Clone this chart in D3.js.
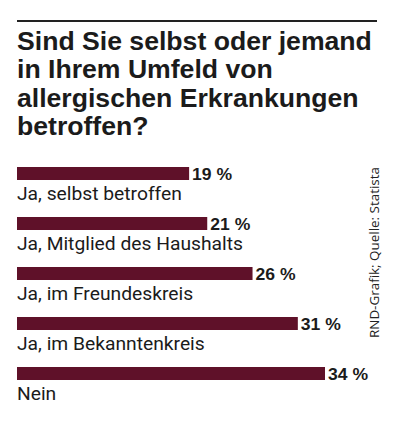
<!DOCTYPE html>
<html>
<head>
<meta charset="utf-8">
<script src="https://cdn.jsdelivr.net/npm/d3@7"></script>
<style>
  body { margin: 0; background: #fff; }
  svg { display: block; }
</style>
</head>
<body>
<div class="chart"></div>
<script>
// data
const titleLines = ["Sind Sie selbst oder jemand", "in Ihrem Umfeld von", "allergischen Erkrankungen", "betroffen?"];
const categories = ["Ja, selbst betroffen", "Ja, Mitglied des Haushalts", "Ja, im Freundeskreis", "Ja, im Bekanntenkreis", "Nein"];
const values = [19, 21, 26, 31, 34];
const source = "RND-Grafik; Quelle: Statista";

const width = 406, height = 424;
const barColor = "#5f1129";
const textColor = "#1b1b1b";

let svg = d3.select(".chart")
    .append("svg")
    .attr("width", width)
    .attr("height", height);

// squeeze / stretch a group horizontally so a reference width is reached
function fitWidth(group, w, wanted, x0) {
    let s = wanted / w;
    group.attr("transform", `translate(${x0 - x0 * s},0) scale(${s},1)`);
}

// top rule
svg.append("line")
    .attr("x1", 17).attr("x2", 377)
    .attr("y1", 21).attr("y2", 21)
    .attr("stroke", "#222")
    .attr("stroke-width", 2);

// title (Liberation Sans has a compact line box, lines sit 28.4px apart)
let titleG = svg.append("g");
titleG.selectAll("text")
    .data(titleLines)
    .join("text")
    .attr("x", 17)
    .attr("y", (d, i) => 50 + i * 28.4)
    .attr("font-family", "'Liberation Sans', Arial, sans-serif")
    .attr("font-weight", 700)
    .attr("font-size", 25)
    .attr("fill", textColor)
    .text(d => d);
fitWidth(titleG, titleG.select("text").node().getComputedTextLength(), 355, 17);

// scales
let xScale = d3.scaleLinear()
    .domain([0, 34])
    .range([17, 325]);

let yScale = d3.scalePoint()
    .domain(categories)
    .range([167, 367]);

const barHeight = 13;
const rowData = categories.map((c, i) => ({ category: c, value: values[i] }));

svg.append("g")
    .selectAll("rect")
    .data(rowData)
    .join("rect")
    .attr("x", xScale(0))
    .attr("y", d => yScale(d.category))
    .attr("width", d => xScale(d.value) - xScale(0))
    .attr("height", barHeight)
    .attr("fill", barColor);

// value labels
svg.append("g")
    .selectAll("text")
    .data(rowData)
    .join("text")
    .attr("x", d => xScale(d.value) + 3)
    .attr("y", d => yScale(d.category) + 12.5)
    .attr("font-family", "'Liberation Sans', Arial, sans-serif")
    .attr("font-weight", 700)
    .attr("font-size", 17)
    .attr("fill", textColor)
    .attr("textLength", 40)
    .attr("lengthAdjust", "spacingAndGlyphs")
    .text(d => d.value + " %");

// category labels
let catG = svg.append("g");
catG.selectAll("text")
    .data(rowData)
    .join("text")
    .attr("x", 17)
    .attr("y", d => yScale(d.category) + 33.5)
    .attr("font-family", "Roboto, sans-serif")
    .attr("font-size", 17.5)
    .attr("fill", textColor)
    .text(d => d.category);
fitWidth(catG, catG.select("text").node().getComputedTextLength(), 165, 17);

// source, rotated
svg.append("text")
    .attr("transform", "translate(379,338) rotate(-90)")
    .attr("font-family", "'Open Sans', sans-serif")
    .attr("font-size", 13.5)
    .attr("fill", "#222")
    .attr("textLength", 171)
    .attr("lengthAdjust", "spacingAndGlyphs")
    .text(source);
</script>
</body>
</html>
